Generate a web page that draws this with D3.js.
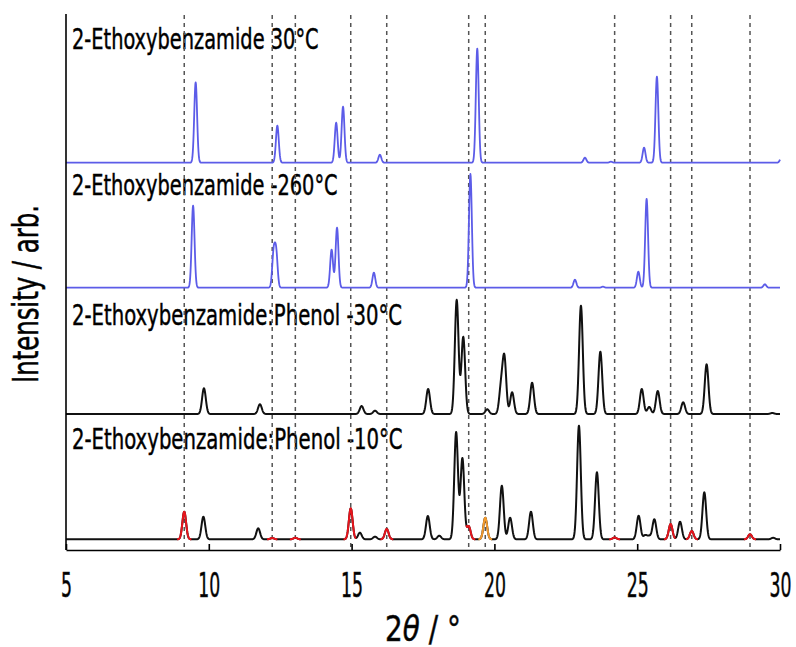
<!DOCTYPE html>
<html>
<head>
<meta charset="utf-8">
<script src="https://cdn.jsdelivr.net/npm/d3@7"></script>
<style>
  html, body { margin: 0; padding: 0; background: #fff; }
  svg { display: block; }
  text { font-family: "Liberation Sans Narrow", "DejaVu Sans Condensed", "Roboto Condensed", "Liberation Sans", sans-serif; fill: #000; }
</style>
</head>
<body>
<svg id="chart" width="796" height="647"></svg>
<script>
// ---- Data: powder diffraction peaks (2θ in degrees, intensity in arbitrary units) ----
const xTicks = [5, 10, 15, 20, 25, 30];

const traceLabels = [
  "2-Ethoxybenzamide 30°C",
  "2-Ethoxybenzamide -260°C",
  "2-Ethoxybenzamide:Phenol -30°C",
  "2-Ethoxybenzamide:Phenol -10°C"
];
// vertical offset of each pattern in the stack
const traceOffsets = [387.3, 262.3, 136, 10.7];

// 2-ethoxybenzamide, 30 °C
const ebz30Pos = [9.54, 12.40, 14.46, 14.70, 15.99, 19.40, 23.17, 24.08, 25.24, 25.69, 30.05];
const ebz30Int = [80.4, 37, 40, 56, 8, 114, 5, 1, 15, 86, 5];

// 2-ethoxybenzamide, -260 °C
const ebz260Pos = [9.45, 12.27, 12.36, 14.30, 14.49, 15.78, 19.16, 22.82, 23.80, 25.04, 25.33, 29.47];
const ebz260Int = [82, 34, 34, 38, 60, 15, 113.7, 8, 1, 16, 88.7, 3.4];

// 2-ethoxybenzamide:phenol, -30 °C
const cocr30Pos = [9.83, 11.79, 15.35, 15.82, 17.68, 18.68, 18.91, 19.75, 20.23, 20.35, 20.62, 21.32, 23.03, 23.71, 25.16, 25.42, 25.72, 26.61, 27.43, 29.73];
const cocr30Int = [25.7, 9.7, 8, 3.3, 25, 114, 77, 4.7, 25, 55, 21.7, 31.3, 108.3, 62.3, 25, 7, 23, 11.7, 49.7, 1];

// 2-ethoxybenzamide:phenol, -10 °C (co-crystal reflections)
const cocr10Pos = [9.81, 11.73, 15.29, 15.82, 17.67, 18.07, 18.66, 18.88, 20.26, 20.55, 21.28, 22.96, 23.59, 25.05, 25.28, 25.42, 25.60, 26.50, 27.35, 29.76];
const cocr10Int = [22.6, 11, 6.6, 2.6, 23.3, 3.6, 107, 81, 53.6, 21.6, 27.6, 113.6, 67, 23.6, 4, 3, 20, 17.6, 47, 1.5];
// additional reflections in the -10 °C pattern (red)
const extraRedPos = [9.14, 12.22, 13.03, 14.97, 16.23, 19.10, 24.21, 26.17, 26.91, 28.95];
const extraRedInt = [27.6, 1.2, 1.5, 31, 10.3, 13, 1.8, 15.3, 8.3, 5];
// reflection marked in orange
const extraOrangePos = [19.68];
const extraOrangeInt = [21.6];

// ---- Layout ----
const svg = d3.select("#chart");
const x = d3.scaleLinear().domain([5, 30]).range([66, 780]);
const y = d3.scaleLinear().domain([0, 536]).range([550, 14]);

const blue = "#5c5ce8", red = "#e8141c", orange = "#f39a2c", black = "#111";
const sigmaBlue = 0.05, sigmaBlack = 0.065;

function peaksOf(pos, ints, kind) {
  return pos.map((p, i) => ({ pos: p, h: ints[i], kind: kind }));
}

// sample the pattern on a fine 2θ grid
function sample(peaks, sigma) {
  const pts = [];
  for (let i = 0; i <= 2500; i++) {
    const t = 5 + i * 0.01;
    let total = 0, best = null, bestC = 0;
    peaks.forEach(pk => {
      const d = t - pk.pos;
      const c = pk.h * Math.exp(-d * d / (2 * sigma * sigma));
      total += c;
      if (pk.kind !== "base" && c > bestC) { bestC = c; best = pk.kind; }
    });
    const kind = (best && bestC >= 0.5 * total && bestC > 0.03) ? best : "base";
    pts.push({ t: t, v: total, kind: kind });
  }
  return pts;
}

const traces = [
  { peaks: peaksOf(ebz30Pos, ebz30Int, "base"), sigma: sigmaBlue, color: blue, width: 1.8 },
  { peaks: peaksOf(ebz260Pos, ebz260Int, "base"), sigma: sigmaBlue, color: blue, width: 1.8 },
  { peaks: peaksOf(cocr30Pos, cocr30Int, "base"), sigma: sigmaBlack, color: black, width: 2 },
  { peaks: peaksOf(cocr10Pos, cocr10Int, "base")
      .concat(peaksOf(extraRedPos, extraRedInt, "red"))
      .concat(peaksOf(extraOrangePos, extraOrangeInt, "orange")),
    sigma: sigmaBlack, color: black, width: 2 }
];

// ---- Sample labels ----
const labelBaselines = [49, 195, 325, 449.3];
const labelWidths = [246.6, 265.6, 330, 330.6];
svg.append("g").selectAll("text")
  .data(traceLabels)
  .join("text")
  .attr("x", 72)
  .attr("y", (d, i) => labelBaselines[i])
  .attr("font-size", 29)
  .attr("stroke", "#000")
  .attr("stroke-width", 0.45)
  .attr("textLength", (d, i) => labelWidths[i])
  .attr("lengthAdjust", "spacingAndGlyphs")
  .text(d => d);

// ---- Reference lines at the extra reflections ----
const markPos = extraRedPos.concat(extraOrangePos).sort(d3.ascending);
svg.append("g").selectAll("line")
  .data(markPos)
  .join("line")
  .attr("x1", d => x(d)).attr("x2", d => x(d))
  .attr("y1", 15).attr("y2", 550)
  .attr("stroke", "#555")
  .attr("stroke-width", 1.5)
  .attr("stroke-dasharray", "4,4");

// ---- Patterns ----
const gTraces = svg.append("g");
traces.forEach((tr, i) => {
  const pts = sample(tr.peaks, tr.sigma);
  const off = traceOffsets[i];
  const line = d3.line().x(d => x(d.t)).y(d => y(off + d.v));
  gTraces.append("path")
    .attr("d", line(pts))
    .attr("fill", "none")
    .attr("stroke", tr.color)
    .attr("stroke-width", tr.width)
    .attr("stroke-linejoin", "round");

  // highlight runs dominated by the extra reflections
  let run = null;
  const runs = [];
  pts.forEach((p, k) => {
    if (p.kind !== "base") {
      if (run && run.kind === p.kind && run.end === k - 1) { run.end = k; }
      else { run = { kind: p.kind, start: k, end: k }; runs.push(run); }
    }
  });
  runs.forEach(r => {
    const seg = pts.slice(Math.max(0, r.start - 1), Math.min(pts.length, r.end + 2));
    gTraces.append("path")
      .attr("d", line(seg))
      .attr("fill", "none")
      .attr("stroke", r.kind === "red" ? red : orange)
      .attr("stroke-width", tr.width)
      .attr("stroke-linejoin", "round");
  });
});

// ---- Axes ----
const xAxis = d3.axisBottom(x)
  .tickValues(xTicks)
  .tickSizeInner(-6)
  .tickSizeOuter(0)
  .tickFormat(d3.format("d"));

const gx = svg.append("g")
  .attr("transform", "translate(0,550)")
  .call(xAxis);
gx.attr("font-family", null);
gx.select(".domain").attr("stroke", "#000").attr("stroke-width", 1.6);
gx.selectAll(".tick line").attr("stroke", "#000").attr("stroke-width", 1.6);
gx.selectAll(".tick text")
  .attr("y", 47)
  .attr("dy", null)
  .attr("font-size", 33)
  .attr("fill", "#222")
  .attr("stroke", "#222")
  .attr("stroke-width", 0.5)
  .attr("textLength", d => String(d).length * 11)
  .attr("lengthAdjust", "spacingAndGlyphs");

// left spine
svg.append("line")
  .attr("x1", x(5)).attr("x2", x(5))
  .attr("y1", 14).attr("y2", 550)
  .attr("stroke", "#000")
  .attr("stroke-width", 1.6);

// axis titles
const xt = svg.append("text")
  .attr("transform", `translate(${(x(5) + x(30)) / 2},641) scale(0.86,1)`)
  .attr("text-anchor", "middle")
  .attr("font-size", 36)
  .attr("fill", "#222")
  .attr("stroke", "#222")
  .attr("stroke-width", 0.5);
xt.append("tspan").text("2");
xt.append("tspan").attr("font-style", "italic").text("θ");
xt.append("tspan").text(" / °");

svg.append("text")
  .attr("transform", "translate(38,294) rotate(-90)")
  .attr("text-anchor", "middle")
  .attr("font-size", 35)
  .attr("stroke", "#000")
  .attr("stroke-width", 0.45)
  .attr("textLength", 178)
  .attr("lengthAdjust", "spacingAndGlyphs")
  .text("Intensity / arb.");
</script>
</body>
</html>
